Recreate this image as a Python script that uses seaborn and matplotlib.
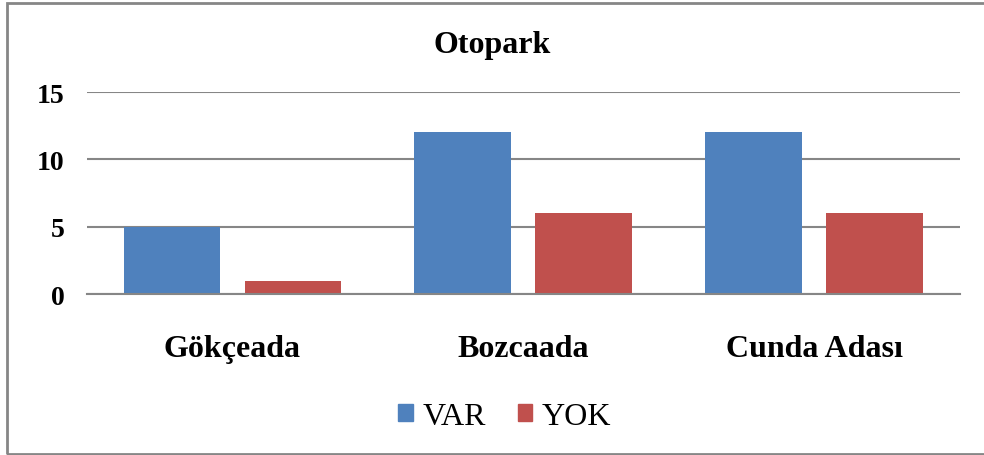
import pandas as pd
import matplotlib.pyplot as plt
import seaborn as sns
from matplotlib.patches import Rectangle

# data
islands = ['Gökçeada', 'Bozcaada', 'Cunda Adası']
var_vals = [5, 12, 12]
yok_vals = [1, 6, 6]

df = pd.DataFrame({
    'ada': islands * 2,
    'deger': var_vals + yok_vals,
    'durum': ['VAR'] * 3 + ['YOK'] * 3,
})

sns.set_theme(style="white")
plt.rcParams['font.family'] = ['Liberation Serif', 'DejaVu Serif']

fig = plt.figure(figsize=(9.84, 4.56), dpi=100)
ax = fig.add_axes([0.0884, 0.353, 0.887, 0.443])

sns.barplot(data=df, x='ada', y='deger', hue='durum', ax=ax,
            palette={'VAR': '#4F81BD', 'YOK': '#C0504D'},
            width=0.832, gap=0.2, saturation=1, linewidth=0, legend=False)

ax.set_ylim(0, 15)
ax.set_yticks([0, 5, 10, 15])
ax.yaxis.grid(True, color='#868686', linewidth=1.5)
ax.set_axisbelow(True)
for s in ['top', 'right', 'left']:
    ax.spines[s].set_visible(False)
ax.spines['bottom'].set_color('#868686')
ax.spines['bottom'].set_linewidth(1.5)
ax.tick_params(axis='y', length=0, pad=16, labelsize=20, labelcolor='black')
ax.tick_params(axis='x', length=0, pad=29, labelsize=23, labelcolor='black')
for lbl in ax.get_xticklabels() + ax.get_yticklabels():
    lbl.set_fontweight('bold')
ax.set_xlabel('')
ax.set_ylabel('')

fig.text(0.5, 0.9, 'Otopark', ha='center', va='center',
         fontsize=23, fontweight='bold', color='black')

handles = [Rectangle((0, 0), 1, 1, color='#4F81BD'),
           Rectangle((0, 0), 1, 1, color='#C0504D')]
fig.legend(handles, ['VAR', 'YOK'], loc='center', bbox_to_anchor=(0.513, 0.085),
           ncol=2, frameon=False, fontsize=23, handlelength=0.45,
           handleheight=0.45, handletextpad=0.3, columnspacing=1.0,
           labelcolor='black')

# outer border
fig.patches.append(Rectangle((0.007, 0.002), 1.1, 0.99, transform=fig.transFigure,
                             fill=False, edgecolor='#868686', linewidth=2))

plt.savefig('out.png', dpi=100)
